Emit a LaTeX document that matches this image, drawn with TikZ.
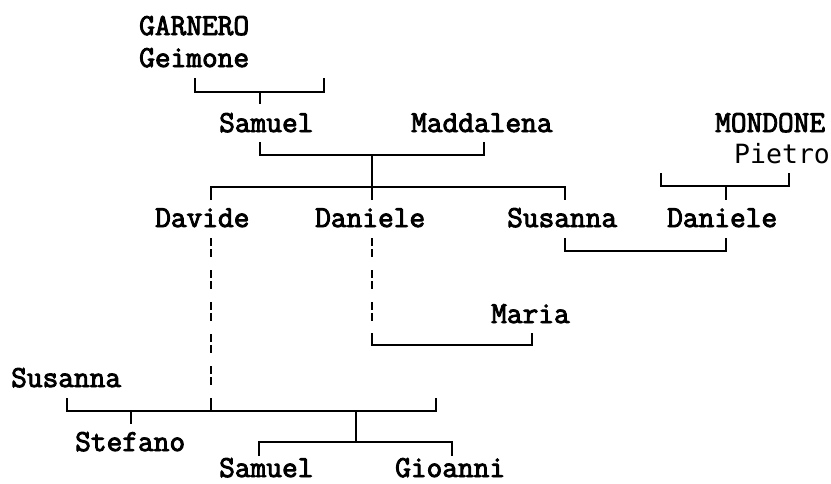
\documentclass[tikz,border=0pt]{standalone}
\usepackage{fontspec}
\newfontfamily\namefont[FakeBold=3]{Latin Modern Mono}
\newfontfamily\sansmono{DejaVu Sans Mono}
\begin{document}
\begin{tikzpicture}[
    x=1pt, y=-1pt,
    person/.style={anchor=base west, inner sep=0pt, font=\namefont\fontsize{30.5}{36}\selectfont},
    pperson/.style={anchor=base west, inner sep=0pt, font=\sansmono\fontsize{26.5}{30}\selectfont},
    line/.style={line width=1.8pt},
    desc/.style={line width=1.8pt, dash pattern=on 8pt off 3pt on 8pt off 13pt}
]
    \useasboundingbox (0,0) rectangle (831,483);
    % Names at absolute positions (left edge, baseline)
    \node[person] (garnero) at (139,35) {GARNERO};
    \node[person] (geimone) at (139,67) {Geimone};
    \node[person] (samuel) at (219,132) {Samuel};
    \node[person] (maddalena) at (411,132) {Maddalena};
    \node[person] (mondone) at (715,132) {MONDONE};
    \node[pperson] (pietro) at (734,163) {Pietro};
    \node[person] (davide) at (155,227) {Davide};
    \node[person] (daniele) at (315,227) {Daniele};
    \node[person] (susanna) at (507,227) {Susanna};
    \node[person] (danieleM) at (667,227) {Daniele};
    \node[person] (maria) at (491,323) {Maria};
    \node[person] (susannaB) at (11,387) {Susanna};
    \node[person] (stefano) at (75,451) {Stefano};
    \node[person] (samuelB) at (219,477) {Samuel};
    \node[person] (gioanni) at (395,477) {Gioanni};

    % Joints of the brackets
    \coordinate (g1) at (195,78);  \coordinate (gj) at (260,92);
    \coordinate (g2) at (324,78);  \coordinate (gs) at (260,104);
    \coordinate (m1) at (260,142); \coordinate (mj) at (372,155);
    \coordinate (m2) at (484,142);
    \coordinate (c1) at (211,200); \coordinate (cj) at (372,187);
    \coordinate (c2) at (565,200); \coordinate (cb) at (372,200);
    \coordinate (p1) at (661,173); \coordinate (pj) at (726,186);
    \coordinate (p2) at (789,173); \coordinate (pb) at (726,200);
    \coordinate (s1) at (565,238); \coordinate (sj) at (600,251);
    \coordinate (s2) at (726,238);
    \coordinate (d1) at (372,238); \coordinate (d2) at (372,333);
    \coordinate (dj) at (372,345); \coordinate (d3) at (532,333);
    \coordinate (v1) at (211,238); \coordinate (v2) at (211,398);
    \coordinate (vj) at (211,411);
    \coordinate (b1) at (67,398);  \coordinate (b2) at (436,398);
    \coordinate (t1) at (131,411); \coordinate (t2) at (131,424);
    \coordinate (k1) at (356,411); \coordinate (k2) at (356,442);
    \coordinate (l1) at (259,456); \coordinate (l2) at (452,456);

    % Marriages and descents
    \draw[line] (g1) |- (gj) -| (g2);
    \draw[line] (gj) -- (gs);
    \draw[line] (m1) |- (mj) -| (m2);
    \draw[line] (c1) |- (cj) -| (c2);
    \draw[line] (mj) -- (cb);
    \draw[line] (p1) |- (pj) -| (p2);
    \draw[line] (pj) -- (pb);
    \draw[line] (s1) |- (sj) -| (s2);
    \draw[desc] (d1) -- (d2);
    \draw[line] (d2) -- (dj) -| (d3);
    \draw[desc] (v1) -- (v2);
    \draw[line] (v2) -- (vj);
    \draw[line] (b1) |- (vj) -| (b2);
    \draw[line] (t1) -- (t2);
    \draw[line] (k1) -- (k2);
    \draw[line] (l1) |- (k2) -| (l2);
\end{tikzpicture}
\end{document}
